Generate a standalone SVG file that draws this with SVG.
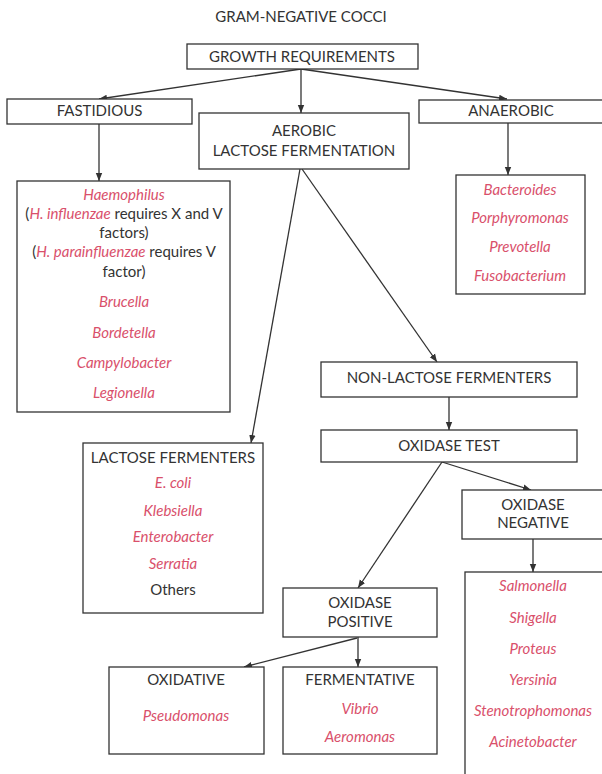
<svg xmlns="http://www.w3.org/2000/svg" width="602" height="774" viewBox="0 0 602 774">
<style>
text{font-family:Lato,"Open Sans","Liberation Sans",sans-serif;font-size:15px;fill:#333;text-anchor:middle}
.i{font-style:italic;fill:#d9506b}
.p{font-style:italic;fill:#d9506b}
.b{fill:#fff;stroke:#333;stroke-width:1.3}
.c line{stroke:#333;stroke-width:1.3}
</style>
<defs>
<marker id="a" markerUnits="userSpaceOnUse" markerWidth="8" markerHeight="8" viewBox="0 0 8 8" refX="8" refY="4" orient="auto">
<path d="M0,0.8 L8,4 L0,7.2 Z" fill="#333"/>
</marker>
</defs>
<rect x="0" y="0" width="602" height="774" fill="#fff"/>
<text x="301" y="22">GRAM-NEGATIVE COCCI</text>
<g class="c">
<line x1="301" y1="69" x2="99" y2="99" marker-end="url(#a)"/>
<line x1="301" y1="69" x2="301" y2="113" marker-end="url(#a)"/>
<line x1="301" y1="69" x2="507" y2="99" marker-end="url(#a)"/>
<line x1="99" y1="124" x2="99" y2="181" marker-end="url(#a)"/>
<line x1="508" y1="123" x2="508" y2="175" marker-end="url(#a)"/>
<line x1="300" y1="169" x2="251" y2="443" marker-end="url(#a)"/>
<line x1="302" y1="169" x2="437" y2="362" marker-end="url(#a)"/>
<line x1="449" y1="397" x2="449" y2="430" marker-end="url(#a)"/>
<line x1="442" y1="462" x2="358" y2="588" marker-end="url(#a)"/>
<line x1="442" y1="462" x2="531" y2="490" marker-end="url(#a)"/>
<line x1="533" y1="539" x2="533" y2="572" marker-end="url(#a)"/>
<line x1="358" y1="637" x2="358" y2="667" marker-end="url(#a)"/>
<line x1="357" y1="638" x2="244" y2="667" marker-end="url(#a)"/>
</g>
<g id="growth"><rect class="b" x="187" y="44" width="231" height="25"/><text x="302" y="62">GROWTH REQUIREMENTS</text></g>
<g id="fastidious"><rect class="b" x="7" y="99" width="185" height="25"/><text x="99.5" y="116">FASTIDIOUS</text></g>
<g id="anaerobic"><rect class="b" x="419" y="100" width="190" height="23"/><text x="511" y="116">ANAEROBIC</text></g>
<g id="aerobic"><rect class="b" x="199" y="113" width="210" height="56"/><text x="304" y="136">AEROBIC</text><text x="304" y="156">LACTOSE FERMENTATION</text></g>
<g id="fastidious-list"><rect class="b" x="17" y="181" width="213" height="231"/>
<text class="i" x="124" y="200">Haemophilus</text>
<text x="124" y="219">(<tspan class="p">H. influenzae</tspan> requires X and V</text>
<text x="124" y="238">factors)</text>
<text x="124" y="257">(<tspan class="p">H. parainfluenzae</tspan> requires V</text>
<text x="124" y="277">factor)</text>
<text class="i" x="124" y="307">Brucella</text>
<text class="i" x="124" y="338">Bordetella</text>
<text class="i" x="124" y="368">Campylobacter</text>
<text class="i" x="124" y="398">Legionella</text>
</g>
<g id="anaerobic-list"><rect class="b" x="456" y="175" width="129" height="119"/>
<text class="i" x="520" y="195">Bacteroides</text>
<text class="i" x="520" y="223">Porphyromonas</text>
<text class="i" x="520" y="252">Prevotella</text>
<text class="i" x="520" y="281">Fusobacterium</text>
</g>
<g id="non-lactose"><rect class="b" x="321" y="362" width="256" height="35"/><text x="449" y="383">NON-LACTOSE FERMENTERS</text></g>
<g id="oxidase-test"><rect class="b" x="321" y="430" width="256" height="32"/><text x="449" y="451">OXIDASE TEST</text></g>
<g id="lactose"><rect class="b" x="83" y="443" width="180" height="170"/>
<text x="173" y="463">LACTOSE FERMENTERS</text>
<text class="i" x="173" y="488">E. coli</text>
<text class="i" x="173" y="516">Klebsiella</text>
<text class="i" x="173" y="542">Enterobacter</text>
<text class="i" x="173" y="569">Serratia</text>
<text x="173" y="595">Others</text>
</g>
<g id="oxidase-negative"><rect class="b" x="462" y="490" width="150" height="49"/><text x="533" y="510">OXIDASE</text><text x="533" y="528">NEGATIVE</text></g>
<g id="negative-list"><rect class="b" x="465" y="572" width="150" height="215"/>
<text class="i" x="533" y="591">Salmonella</text>
<text class="i" x="533" y="623">Shigella</text>
<text class="i" x="533" y="654">Proteus</text>
<text class="i" x="533" y="685">Yersinia</text>
<text class="i" x="533" y="716">Stenotrophomonas</text>
<text class="i" x="533" y="747">Acinetobacter</text>
</g>
<g id="oxidase-positive"><rect class="b" x="283" y="588" width="154" height="49"/><text x="360" y="608">OXIDASE</text><text x="360" y="627">POSITIVE</text></g>
<g id="fermentative"><rect class="b" x="283" y="667" width="154" height="87"/>
<text x="360" y="685">FERMENTATIVE</text>
<text class="i" x="360" y="714">Vibrio</text>
<text class="i" x="360" y="742">Aeromonas</text>
</g>
<g id="oxidative"><rect class="b" x="109" y="667" width="155" height="87"/>
<text x="186" y="685">OXIDATIVE</text>
<text class="i" x="186" y="721">Pseudomonas</text>
</g>
</svg>
